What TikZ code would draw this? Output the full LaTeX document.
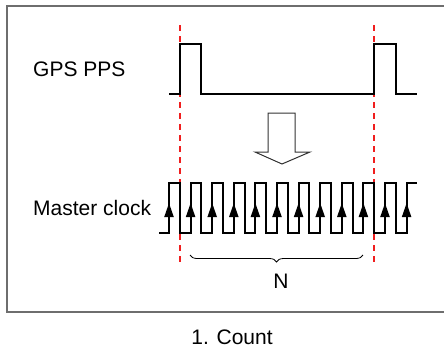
\documentclass[tikz,border=0pt]{standalone}
\usepackage{fontspec}
\setmainfont{Liberation Sans}
\usepackage{tikz}
\usetikzlibrary{arrows.meta, decorations.pathreplacing, calc}
\definecolor{MkRed}{RGB}{240,30,30}
\definecolor{FrGray}{RGB}{110,110,110}

\begin{document}
\begin{tikzpicture}[x=1pt, y=-1pt,
          lbl/.style={font=\fontsize{21}{25}\selectfont, inner sep=0pt},
          wave/.style={draw=black, line width=2pt},
          marker/.style={draw=MkRed, line width=2pt, dash pattern=on 6pt off 5pt},
          rise/.style={-{Triangle[length=14pt, width=9pt]}, line width=2pt},
          hollow/.style={draw=black!80, fill=white, line width=1pt}
        ]
        \useasboundingbox (0,0) rectangle (444,354);
        % frame
        \draw[draw=FrGray, line width=1.5pt] (450,6) -- (7,6) -- (7,312) -- (450,312);

        % markers at the PPS edges
        \coordinate (m1a) at (180,25);  \coordinate (m1b) at (180,262);
        \coordinate (m2a) at (374,25);  \coordinate (m2b) at (374,262);
        \draw[marker] (m1a) -- (m1b);
        \draw[marker] (m2a) -- (m2b);

        % GPS PPS
        \node[lbl, anchor=west] (gps) at (33,69) {GPS PPS};
        \draw[wave] (169,94) -- (180,94) -- (180,44) -- (201,44) -- (201,94)
              -- (374,94) -- (374,44) -- (396,44) -- (396,94) -- (417,94);

        % down arrow
        \draw[hollow] (268,113) -- (295,113) -- (295,152) -- (310,152)
              -- (282,164) -- (255,152) -- (268,152) -- cycle;

        % Master clock
        \node[lbl, anchor=west] (clk) at (33,208) {Master clock};
        \draw[wave] (159,233) \foreach \i in {0,...,10} {
              -- ({169+21.6*\i},233) -- ({169+21.6*\i},183)
              -- ({179.8+21.6*\i},183) -- ({179.8+21.6*\i},233) }
              -- (406.6,233) -- (406.6,183) -- (417,183);
        \foreach \i in {0,...,11}
          \draw[rise] ({169+21.6*\i},226) -- ({169+21.6*\i},203);

        % count
        \draw[decorate, decoration={brace, amplitude=7pt, mirror},
              line width=0.8pt] (190,255) -- (363,255);
        \node[lbl] (cnt) at (281,281) {N};

        \node[lbl] (cap) at (232,337) {1. Count};
      \end{tikzpicture}
\end{document}
